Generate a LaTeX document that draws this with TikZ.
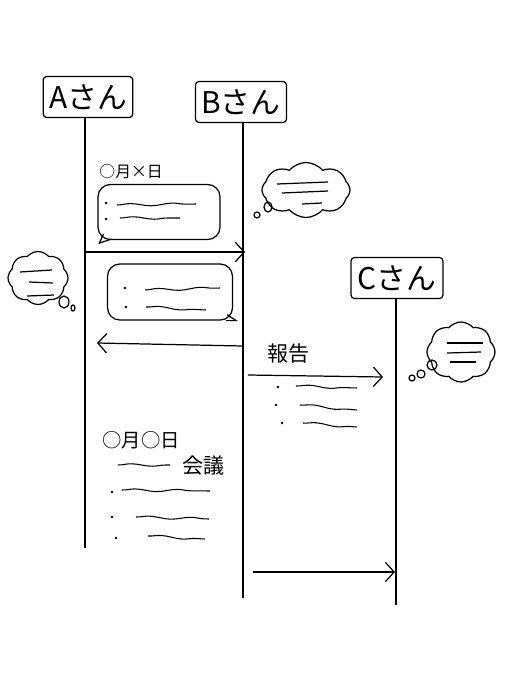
\documentclass[tikz,border=0pt]{standalone}
\usepackage{fontspec}
\setmainfont{Noto Sans CJK JP}
\usetikzlibrary{positioning, shapes.symbols, decorations.pathmorphing, arrows.meta}

\begin{document}
\begin{tikzpicture}[
x=0.02cm, y=-0.02cm,
line width=0.7pt,
person/.style={rectangle,
  draw,
  rounded corners=2pt,
  minimum height=0.82cm,
  font=\fontsize{17}{19}\selectfont,
},
think/.style={cloud,
  draw,
  cloud puffs=8,
  cloud puff arc=100,
  aspect=1.4,
},
talk/.style={rectangle,
  draw,
  rounded corners=7pt,
},
scrib/.style={decorate,
  decoration={snake, amplitude=0.7pt, segment length=24pt},
  line width=0.6pt
},
msg/.style={-{Straight Barb[length=5pt,width=11pt]}},
>=latex
]
\useasboundingbox (0,0) rectangle (520,680);

% persons
\node[person, minimum width=1.78cm] (asan) at (88,97) {Aさん};
\node[person, minimum width=1.68cm] (bsan) at (241,102) {Bさん};
\node[person, minimum width=1.84cm] (csan) at (397,278) {Cさん};

\coordinate (aend) at (85,548);
\coordinate (bend) at (243,598);
\coordinate (cend) at (396,605);
\draw (asan.south -| aend) -- (aend);
\draw (bsan.south -| bend) -- (bend);
\draw (csan.south -| cend) -- (cend);

% first day
\node[font=\fontsize{9}{10}\selectfont, anchor=west] (day1) at (93,172) {○月×日};

\node[talk, minimum width=2.44cm, minimum height=1.1cm] (talk1) at (159,212) {};
\draw (talk1.south west) ++(6,-6) -- ++(-4,9) -- ++(12,-4);
\fill (106,203) circle (0.8pt) (106,219) circle (0.8pt);
\draw[scrib] (117,205) -- (196,204);
\draw[scrib] (120,218) -- (180,218);

\node[think, minimum width=1.76cm, minimum height=1.1cm] (thinkb) at (306,190) {};
\draw (268,207) ellipse (4 and 5);
\draw (257,215) circle (3);
\draw (277,184) -- (328,182);
\draw (282,193) -- (328,191);
\draw (302,204) -- (322,203);

\coordinate (a1) at (85,252);
\coordinate (b1) at (245,252);
\draw[msg] (a1) -- (b1);

\node[think, minimum width=1.2cm, minimum height=1.06cm] (thinka) at (38,278) {};
\draw (64,302) ellipse (5 and 6);
\draw (73,308) ellipse (2 and 3);
\draw (20,272) -- (52,270);
\draw (29,282) -- (53,283);
\draw (27,296) -- (54,295);

\node[talk, minimum width=2.5cm, minimum height=1.12cm] (talk2) at (170,292) {};
\draw (talk2.south east) ++(-6,-6) -- ++(9,6) -- ++(-10,0);
\fill (125,288) circle (0.8pt) (126,307) circle (0.8pt);
\draw[scrib] (145,290) -- (220,288);
\draw[scrib] (146,307) -- (206,310);

\coordinate (b2) at (243,346);
\coordinate (a2) at (97,343);
\draw[msg] (b2) -- (a2);

% report to C
\coordinate (b3) at (248,375);
\coordinate (c3) at (383,377);
\draw[msg] (b3) -- node[above=3pt, pos=0.3, font=\fontsize{12}{13}\selectfont] (report) {報告} (c3);
\fill (278,387) circle (0.8pt) (276,405) circle (0.8pt) (282,423) circle (0.8pt);
\draw[scrib] (296,386) -- (357,388);
\draw[scrib] (300,405) -- (357,410);
\draw[scrib] (303,423) -- (357,427);

\node[think, minimum width=1.36cm, minimum height=1.2cm] (thinkc) at (461,352) {};
\draw (432,365) circle (5);
\draw (421,374) circle (4);
\draw (412,378) circle (3);
\draw (447,343) -- (483,343);
\draw (447,353) -- (481,352);
\draw (450,362) -- (476,362);

% second day
\node[font=\fontsize{11}{12}\selectfont, anchor=west] (day2) at (96,440) {○月○日};
\draw[scrib] (118,465) -- (170,465);
\node[font=\fontsize{12}{13}\selectfont, anchor=west] (meeting) at (176,466) {会議};
\fill (112,492) circle (0.8pt) (112,517) circle (0.8pt) (116,538) circle (0.8pt);
\draw[scrib] (122,490) -- (210,491);
\draw[scrib] (136,517) -- (209,519);
\draw[scrib] (148,536) -- (205,539);

\coordinate (b4) at (253,572);
\coordinate (c4) at (395,572);
\draw[msg] (b4) -- (c4);
\end{tikzpicture}
\end{document}
